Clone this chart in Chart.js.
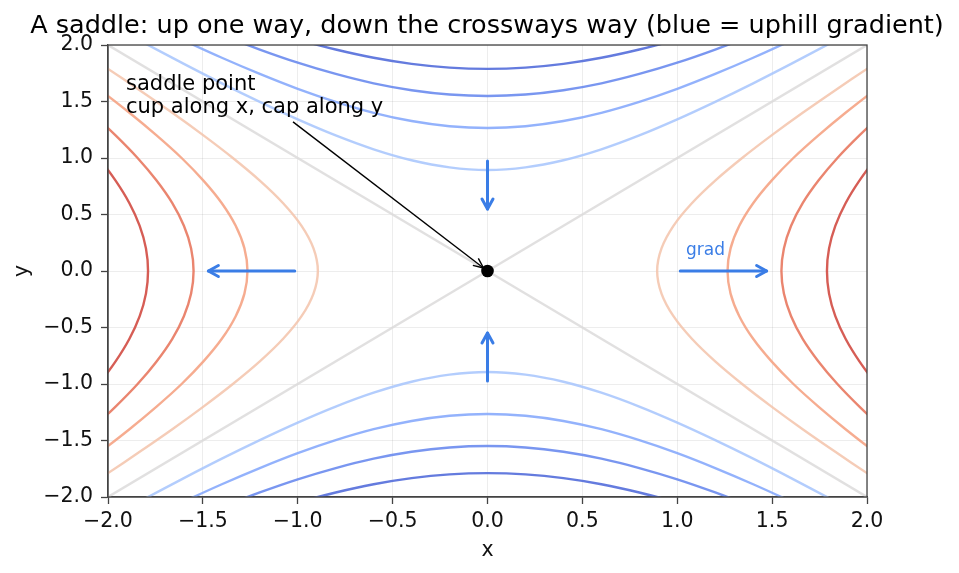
<!DOCTYPE html>
<html>
<head>
<meta charset="utf-8">
<script src="https://cdn.jsdelivr.net/npm/chart.js@4.4.1/dist/chart.umd.min.js"></script>
<style>
  html, body { margin: 0; padding: 0; background: #fff; }
  #wrap { width: 959px; height: 573px; }
</style>
</head>
<body>
<div id="wrap"><canvas id="saddle" width="959" height="573"></canvas></div>
<script>
// f(x, y) = x^2 - y^2, contour levels
const levels = [-3.2, -2.4, -1.6, -0.8, 0, 0.8, 1.6, 2.4, 3.2];
const levelColors = ["#4f69d9", "#6788ee", "#84a7fc", "#a9c6fd", "#dddcdc", "#f4c5ad", "#f5a081", "#e7745b", "#d0473d"];

// sample positions along each branch (runs past the frame, gets clipped)
const along = [-2.6, -2.4, -2.2, -2.0, -1.8, -1.6, -1.4, -1.2, -1.0, -0.8, -0.6, -0.4, -0.2, 0,
               0.2, 0.4, 0.6, 0.8, 1.0, 1.2, 1.4, 1.6, 1.8, 2.0, 2.2, 2.4, 2.6];
// distance of each branch from the centre line at those positions, |level| 0.8 .. 3.2
const off08 = [2.750, 2.561, 2.375, 2.191, 2.010, 1.833, 1.661, 1.497, 1.342, 1.200, 1.077, 0.980, 0.917, 0.894,
               0.917, 0.980, 1.077, 1.200, 1.342, 1.497, 1.661, 1.833, 2.010, 2.191, 2.375, 2.561, 2.750];
const off16 = [2.891, 2.713, 2.538, 2.366, 2.200, 2.040, 1.887, 1.744, 1.612, 1.497, 1.400, 1.327, 1.281, 1.265,
               1.281, 1.327, 1.400, 1.497, 1.612, 1.744, 1.887, 2.040, 2.200, 2.366, 2.538, 2.713, 2.891];
const off24 = [3.027, 2.857, 2.691, 2.530, 2.375, 2.227, 2.088, 1.960, 1.844, 1.744, 1.661, 1.600, 1.562, 1.549,
               1.562, 1.600, 1.661, 1.744, 1.844, 1.960, 2.088, 2.227, 2.375, 2.530, 2.691, 2.857, 3.027];
const off32 = [3.156, 2.993, 2.835, 2.683, 2.538, 2.400, 2.272, 2.154, 2.049, 1.960, 1.887, 1.833, 1.800, 1.789,
               1.800, 1.833, 1.887, 1.960, 2.049, 2.154, 2.272, 2.400, 2.538, 2.683, 2.835, 2.993, 3.156];
// zero level: the two crossing lines
const zeroLine = [-2.4, 2.4];

// gradient arrows (blue = uphill)
const arrowFrom = [[-1, 0], [1, 0], [0, 1], [0, -1]];
const arrowTo = [[-1.5, 0], [1.5, 0], [0, 0.5], [0, -0.5]];
const saddle = [{ x: 0, y: 0 }];
const noteTail = [-1.025, 1.32];

const xTicks = [-2, -1.5, -1, -0.5, 0, 0.5, 1, 1.5, 2];
const yTicks = [-2, -1.5, -1, -0.5, 0, 0.5, 1, 1.5, 2];

const FONT = "'DejaVu Sans', sans-serif";

function fmt(v) {
  return (v < 0 ? "\u2212" : "") + Math.abs(v).toFixed(1);
}

function line(points, color) {
  return {
    type: "line",
    data: points,
    borderColor: color + "e0",
    borderWidth: 2.4,
    pointRadius: 0,
    tension: 0.35,
    fill: false
  };
}

const datasets = [];
const offs = [off32, off24, off16, off08];
// blue branches: top and bottom
for (let i = 0; i < 4; i++) {
  const o = offs[i];
  datasets.push(line(along.map((a, k) => ({ x: a, y: o[k] })), levelColors[i]));
  datasets.push(line(along.map((a, k) => ({ x: a, y: -o[k] })), levelColors[i]));
}
// zero level
datasets.push(line([{ x: zeroLine[0], y: zeroLine[0] }, { x: zeroLine[1], y: zeroLine[1] }], levelColors[4]));
datasets.push(line([{ x: zeroLine[0], y: zeroLine[1] }, { x: zeroLine[1], y: zeroLine[0] }], levelColors[4]));
// red branches: right and left
for (let i = 0; i < 4; i++) {
  const o = offs[3 - i];
  datasets.push(line(along.map((a, k) => ({ x: o[k], y: a })), levelColors[5 + i]));
  datasets.push(line(along.map((a, k) => ({ x: -o[k], y: a })), levelColors[5 + i]));
}
datasets.push({
  type: "scatter",
  data: saddle,
  order: -1,
  pointRadius: 6.3,
  pointBackgroundColor: "#000",
  pointBorderWidth: 0
});

function head(ctx, x0, y0, x1, y1, len, half) {
  const a = Math.atan2(y1 - y0, x1 - x0);
  ctx.beginPath();
  ctx.moveTo(x1 - len * Math.cos(a) + half * Math.sin(a), y1 - len * Math.sin(a) - half * Math.cos(a));
  ctx.lineTo(x1, y1);
  ctx.lineTo(x1 - len * Math.cos(a) - half * Math.sin(a), y1 - len * Math.sin(a) + half * Math.cos(a));
  ctx.stroke();
}

const extras = {
  id: "extras",
  afterDraw(chart) {
    const { ctx, chartArea: ca, scales } = chart;
    const X = v => scales.x.getPixelForValue(v);
    const Y = v => scales.y.getPixelForValue(v);
    ctx.save();
    // frame
    ctx.strokeStyle = "#444";
    ctx.lineWidth = 1.3;
    ctx.strokeRect(ca.left, ca.top, ca.right - ca.left, ca.bottom - ca.top);

    // gradient arrows, shrunk a little at both ends like matplotlib does
    ctx.strokeStyle = "#3a7de6";
    ctx.lineWidth = 3;
    ctx.lineCap = "round";
    ctx.lineJoin = "round";
    for (let i = 0; i < arrowFrom.length; i++) {
      let x0 = X(arrowFrom[i][0]), y0 = Y(arrowFrom[i][1]);
      let x1 = X(arrowTo[i][0]), y1 = Y(arrowTo[i][1]);
      const a = Math.atan2(y1 - y0, x1 - x0);
      x0 += 3 * Math.cos(a); y0 += 3 * Math.sin(a);
      x1 -= 5.5 * Math.cos(a); y1 -= 5.5 * Math.sin(a);
      ctx.beginPath();
      ctx.moveTo(x0, y0);
      ctx.lineTo(x1, y1);
      ctx.stroke();
      head(ctx, x0, y0, x1, y1, 10, 5.5);
    }
    ctx.fillStyle = "#3a7de6";
    ctx.font = "17px " + FONT;
    ctx.textBaseline = "alphabetic";
    ctx.fillText("grad", 686, 255);

    // annotation
    const tx = X(noteTail[0]), ty = Y(noteTail[1]);
    const ang = Math.atan2(Y(0) - ty, X(0) - tx);
    const ex = X(0) - 5 * Math.cos(ang), ey = Y(0) - 5 * Math.sin(ang);
    ctx.strokeStyle = "#000";
    ctx.lineWidth = 1.4;
    ctx.lineCap = "butt";
    ctx.beginPath();
    ctx.moveTo(tx, ty);
    ctx.lineTo(ex, ey);
    ctx.stroke();
    head(ctx, tx, ty, ex, ey, 10, 4.5);
    ctx.fillStyle = "#000";
    ctx.font = "21px " + FONT;
    ctx.fillText("saddle point", 126, 90);
    ctx.fillText("cup along x, cap along y", 126, 113);

    // title
    ctx.font = "25.5px " + FONT;
    ctx.textAlign = "center";
    ctx.textBaseline = "alphabetic";
    ctx.fillText("A saddle: up one way, down the crossways way (blue = uphill gradient)", 487, 33);
    ctx.restore();
  }
};

function axis(ticks, title, fitKey, size, pad) {
  return {
    type: "linear",
    min: -2,
    max: 2,
    afterBuildTicks: s => { s.ticks = ticks.map(v => ({ value: v })); },
    afterFit: s => { s[fitKey] = size; },
    ticks: {
      callback: fmt,
      color: "#111",
      font: { family: FONT, size: 20.5 },
      padding: pad
    },
    grid: {
      color: "rgba(0,0,0,0.07)",
      lineWidth: 1,
      tickLength: 7,
      tickColor: "#444",
      tickWidth: 1.3
    },
    border: { display: true, color: "#444", width: 1.3 },
    title: {
      display: true,
      text: title,
      color: "#111",
      font: { family: FONT, size: 20.5 },
      padding: { top: 10, bottom: 10 }
    }
  };
}

new Chart(document.getElementById("saddle"), {
  type: "line",
  data: { datasets },
  plugins: [extras],
  options: {
    responsive: false,
    animation: false,
    elements: { line: { capBezierPoints: false } },
    layout: { padding: { top: 45, right: 92, left: 0, bottom: 0 } },
    plugins: { legend: { display: false }, tooltip: { enabled: false }, title: { display: false } },
    scales: {
      x: axis(xTicks, "x", "height", 76, 5),
      y: axis(yTicks, "y", "width", 108, 8)
    }
  }
});
</script>
</body>
</html>
